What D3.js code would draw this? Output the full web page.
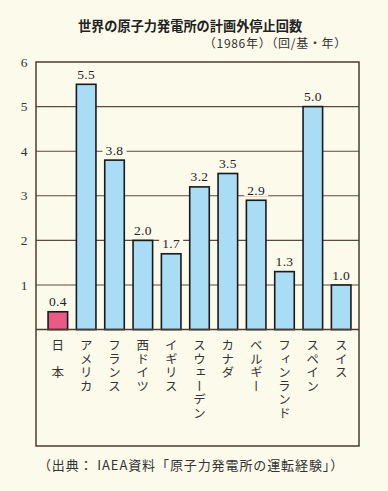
<!DOCTYPE html>
<html><head><meta charset="utf-8">
<script src="https://cdn.jsdelivr.net/npm/d3@7"></script>
<style>
html,body{margin:0;padding:0;background:#fcfaea;}
svg{display:block;}
</style></head>
<body>
<svg id="c" width="388" height="491"></svg>
<script>
const categories = ["日　本","アメリカ","フランス","西ドイツ","イギリス","スウェーデン","カナダ","ベルギー","フィンランド","スペイン","スイス"];
const values = [0.4,5.5,3.8,2.0,1.7,3.2,3.5,2.9,1.3,5.0,1.0];
const valueLabels = ["0.4","5.5","3.8","2.0","1.7","3.2","3.5","2.9","1.3","5.0","1.0"];
const yTicks = [1,2,3,4,5,6];
const title = "世界の原子力発電所の計画外停止回数";
const subtitle = "（1986年）（回/基・年）";
const source = "（出典： IAEA資料「原子力発電所の運転経験」）";

const bg = "#fcfaea";
const ink = "#4a3c32";
const svg = d3.select("#c");
svg.append("rect").attr("width",388).attr("height",491).attr("fill",bg);

const x = d3.scaleBand().domain(categories).range([39,360]).paddingInner(0.31).paddingOuter(0.32);
const y = d3.scaleLinear().domain([0,6]).range([329.6,62]);

const serif = "'Liberation Serif','DejaVu Serif',serif";
const jp = "'Noto Sans CJK JP','Noto Sans CJK SC',sans-serif";

// title
svg.append("text").attr("x",190).attr("y",31).attr("text-anchor","middle")
  .attr("font-family",jp).attr("font-weight","bold").attr("font-size",13.2).attr("fill","#222")
  .text(title);
svg.append("text").attr("x",347).attr("y",48).attr("text-anchor","end")
  .attr("font-family",jp).attr("font-size",12).attr("fill","#333")
  .attr("letter-spacing",0.7)
  .text(subtitle);

// gridlines
svg.append("g").selectAll("line").data(yTicks.filter(d=>d<6)).join("line")
  .attr("x1",36).attr("x2",359).attr("y1",d=>y(d)).attr("y2",d=>y(d))
  .attr("stroke","#5a4a40").attr("stroke-width",1.1);

// y tick labels
svg.append("g").selectAll("text").data(yTicks).join("text")
  .attr("x",24).attr("y",d=>y(d)+4.5).attr("text-anchor","middle")
  .attr("font-family",serif).attr("font-size",13.5).attr("fill","#333")
  .text(d=>d);

// bars
svg.append("g").selectAll("rect").data(values).join("rect")
  .attr("x",(d,i)=>x(categories[i])).attr("width",x.bandwidth())
  .attr("y",d=>y(d)).attr("height",d=>y(0)-y(d))
  .attr("fill",(d,i)=>i===0?"#ea5a86":"#a9dcf5")
  .attr("stroke","#1a1a1a").attr("stroke-width",1.6);

// value labels with background
const lg = svg.append("g");
values.forEach((v,i)=>{
  const cx = x(categories[i]) + x.bandwidth()/2;
  lg.append("rect").attr("x",cx-12).attr("y",y(v)-18).attr("width",24).attr("height",14).attr("fill",bg);
  lg.append("text").attr("x",cx).attr("y",y(v)-5.5).attr("text-anchor","middle")
    .attr("font-family",serif).attr("font-size",13.5).attr("fill","#222")
    .attr("letter-spacing",0.3)
    .text(valueLabels[i]);
});

// frame
svg.append("rect").attr("x",36).attr("y",62).attr("width",323).attr("height",384)
  .attr("fill","none").attr("stroke",ink).attr("stroke-width",1.5);
svg.append("line").attr("x1",36).attr("x2",359).attr("y1",y(0)).attr("y2",y(0))
  .attr("stroke",ink).attr("stroke-width",1.5);

// category labels vertical
svg.append("g").selectAll("text").data(categories).join("text")
  .attr("x",d=>x(d)+x.bandwidth()/2).attr("y",339)
  .attr("font-family",jp).attr("font-size",12.5).attr("fill","#333")
  .attr("letter-spacing",1)
  .style("writing-mode","vertical-rl").style("text-orientation","upright")
  .text(d=>d);

// source
svg.append("text").attr("x",191).attr("y",470).attr("text-anchor","middle")
  .attr("font-family",jp).attr("font-size",13).attr("fill","#333")
  .attr("letter-spacing",0.9)
  .text(source);
</script>
</body></html>
